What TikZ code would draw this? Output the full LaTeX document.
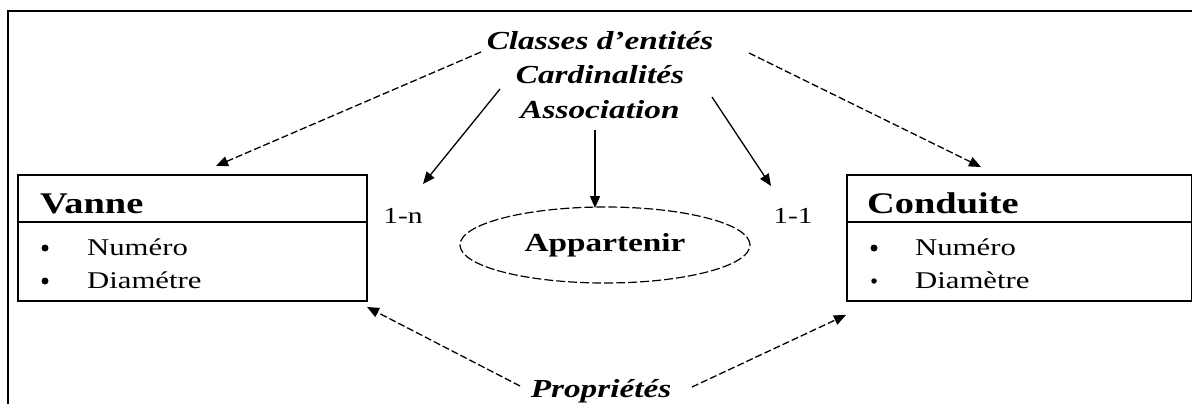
\documentclass[tikz,border=0pt]{standalone}
\usepackage{fontspec}
\setmainfont[FakeStretch=1.28]{Liberation Serif}
\usetikzlibrary{arrows.meta,shapes.geometric}
\begin{document}
\begin{tikzpicture}[x=1pt,y=-1pt,
  box/.style={draw,line width=1.6pt,anchor=north west,inner sep=0pt},
  title/.style={font=\fontsize{30}{30}\selectfont\bfseries,anchor=base west,inner sep=0pt},
  attr/.style={font=\fontsize{24}{24}\selectfont,anchor=base west,inner sep=0pt},
  dot/.style={circle,fill,inner sep=0pt,minimum size=7pt},
  head/.style={font=\fontsize{26}{26}\selectfont\bfseries\itshape,anchor=base,inner sep=0pt},
  card/.style={font=\fontsize{23}{23}\selectfont,anchor=base,inner sep=0pt},
  tip/.style={-{Triangle[length=12pt,width=10pt]}},
  dasharrow/.style={tip,line width=1.3pt,dash pattern=on 7pt off 3pt},
  solidarrow/.style={tip,line width=1.3pt}]
\useasboundingbox (0,0) rectangle (1192,404);
% outer frame (left and top edges)
\draw[line width=1.6pt] (8,404) -- (8,11) -- (1192,11);

% entity: Vanne
\node[box,minimum width=349pt,minimum height=126pt] (vanne) at (17,174) {};
\draw[line width=1.6pt] (17,222) -- (366,222);
\node[title] (vname) at (40,213) {Vanne};
\node[dot] (vb1) at (45,248) {};
\node[attr] (va1) at (87,255) {Numéro};
\node[dot] (vb2) at (45,281) {};
\node[attr] (va2) at (87,288) {Diamétre};

% entity: Conduite
\node[box,minimum width=345pt,minimum height=126pt] (cond) at (846,174) {};
\draw[line width=1.6pt] (846,222) -- (1191,222);
\node[title] (cname) at (867,213) {Conduite};
\node[dot] (cb1) at (874,248) {};
\node[attr] (ca1) at (915,255) {Numéro};
\node[dot,minimum size=5.5pt] (cb2) at (874,281) {};
\node[attr] (ca2) at (915,288) {Diamètre};

% association
\node[draw,ellipse,line width=1.2pt,dash pattern=on 9pt off 3pt,minimum width=290pt,minimum height=76pt,
      font=\fontsize{26}{26}\selectfont\bfseries] (app) at (605,245) {Appartenir};

% cardinalities
\node[card] (c1n) at (403,223) {1-n};
\node[card] (c11) at (793,223) {1-1};

% concept labels
\node[head] (cls) at (600,50) {Classes d'entités};
\node[head] (crd) at (600,84) {Cardinalités};
\node[head] (asc) at (600,118) {Association};
\node[head] (prp) at (601,397) {Propriétés};

% arrow ends
\coordinate (vtop) at (216,166);
\coordinate (ctop) at (981,167);
\coordinate (vbot) at (367,307);
\coordinate (cbot) at (846,315);
\coordinate (t1n) at (423,184);
\coordinate (t11) at (771,186);
\coordinate (s1) at (481,52);
\coordinate (s2) at (749,53);
\coordinate (s3) at (500,89);
\coordinate (s4) at (712,97);
\coordinate (s5) at (595,130);
\coordinate (s6) at (520,386);
\coordinate (s7) at (692,387);
\coordinate (atop) at (595,208);

\draw[dasharrow] (s1) -- (vtop);
\draw[dasharrow] (s2) -- (ctop);
\draw[solidarrow] (s3) -- (t1n);
\draw[solidarrow] (s4) -- (t11);
\draw[solidarrow] (s5) -- (atop);
\draw[dasharrow] (s6) -- (vbot);
\draw[dasharrow] (s7) -- (cbot);
\end{tikzpicture}
\end{document}
